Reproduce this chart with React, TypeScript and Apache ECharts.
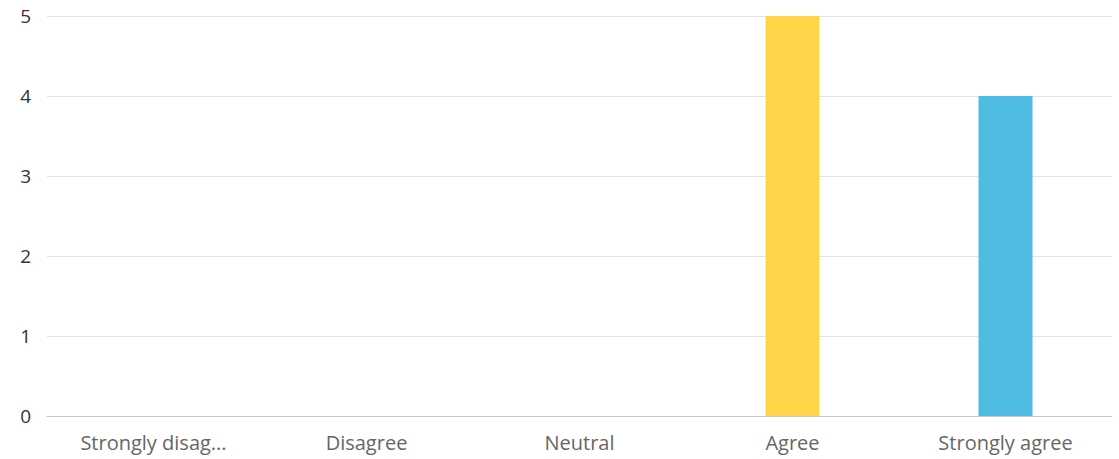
import React, { useEffect, useRef } from "react";
import * as echarts from "echarts";

const categories = ["Strongly disagree", "Disagree", "Neutral", "Agree", "Strongly agree"];
const counts = [0, 0, 0, 5, 4];
const barColors = ["#9E9E9E", "#9E9E9E", "#9E9E9E", "#FFD54A", "#4DBBE2"];
const yTicks = [0, 1, 2, 3, 4, 5];

export default function App() {
  const ref = useRef<HTMLDivElement>(null);
  useEffect(() => {
    if (!ref.current) return;
    const chart = echarts.init(ref.current, undefined, { renderer: "svg" });
    chart.setOption({
      animation: false,
      grid: { left: 47, right: 7, top: 16, bottom: 43, containLabel: false },
      xAxis: {
        type: "category",
        data: categories,
        axisLine: { lineStyle: { color: "#c8c8c8", width: 1 } },
        axisTick: { alignWithLabel: true, length: 5, lineStyle: { color: "#777" } },
        axisLabel: {
          color: "#666",
          fontFamily: "Open Sans",
          fontSize: 20,
          margin: 16,
          formatter: (v: string) => (v.length > 14 ? v.slice(0, 14) + "..." : v),
        },
      },
      yAxis: {
        type: "value",
        min: yTicks[0],
        max: yTicks[yTicks.length - 1],
        interval: 1,
        axisLine: { show: false },
        axisTick: { show: false },
        splitLine: { lineStyle: { color: "#e2e2e2", width: 1 } },
        axisLabel: { color: "#333", fontFamily: "Open Sans", fontSize: 19, margin: 16 },
      },
      series: [
        {
          type: "bar",
          barWidth: 54,
          data: counts.map((v, i) => ({ value: v, itemStyle: { color: barColors[i] } })),
        },
      ],
    });
    return () => chart.dispose();
  }, []);
  return (
    <div
      ref={ref}
      style={{ position: "fixed", left: 0, top: 0, width: 1119, height: 459, background: "#fff" }}
    />
  );
}
